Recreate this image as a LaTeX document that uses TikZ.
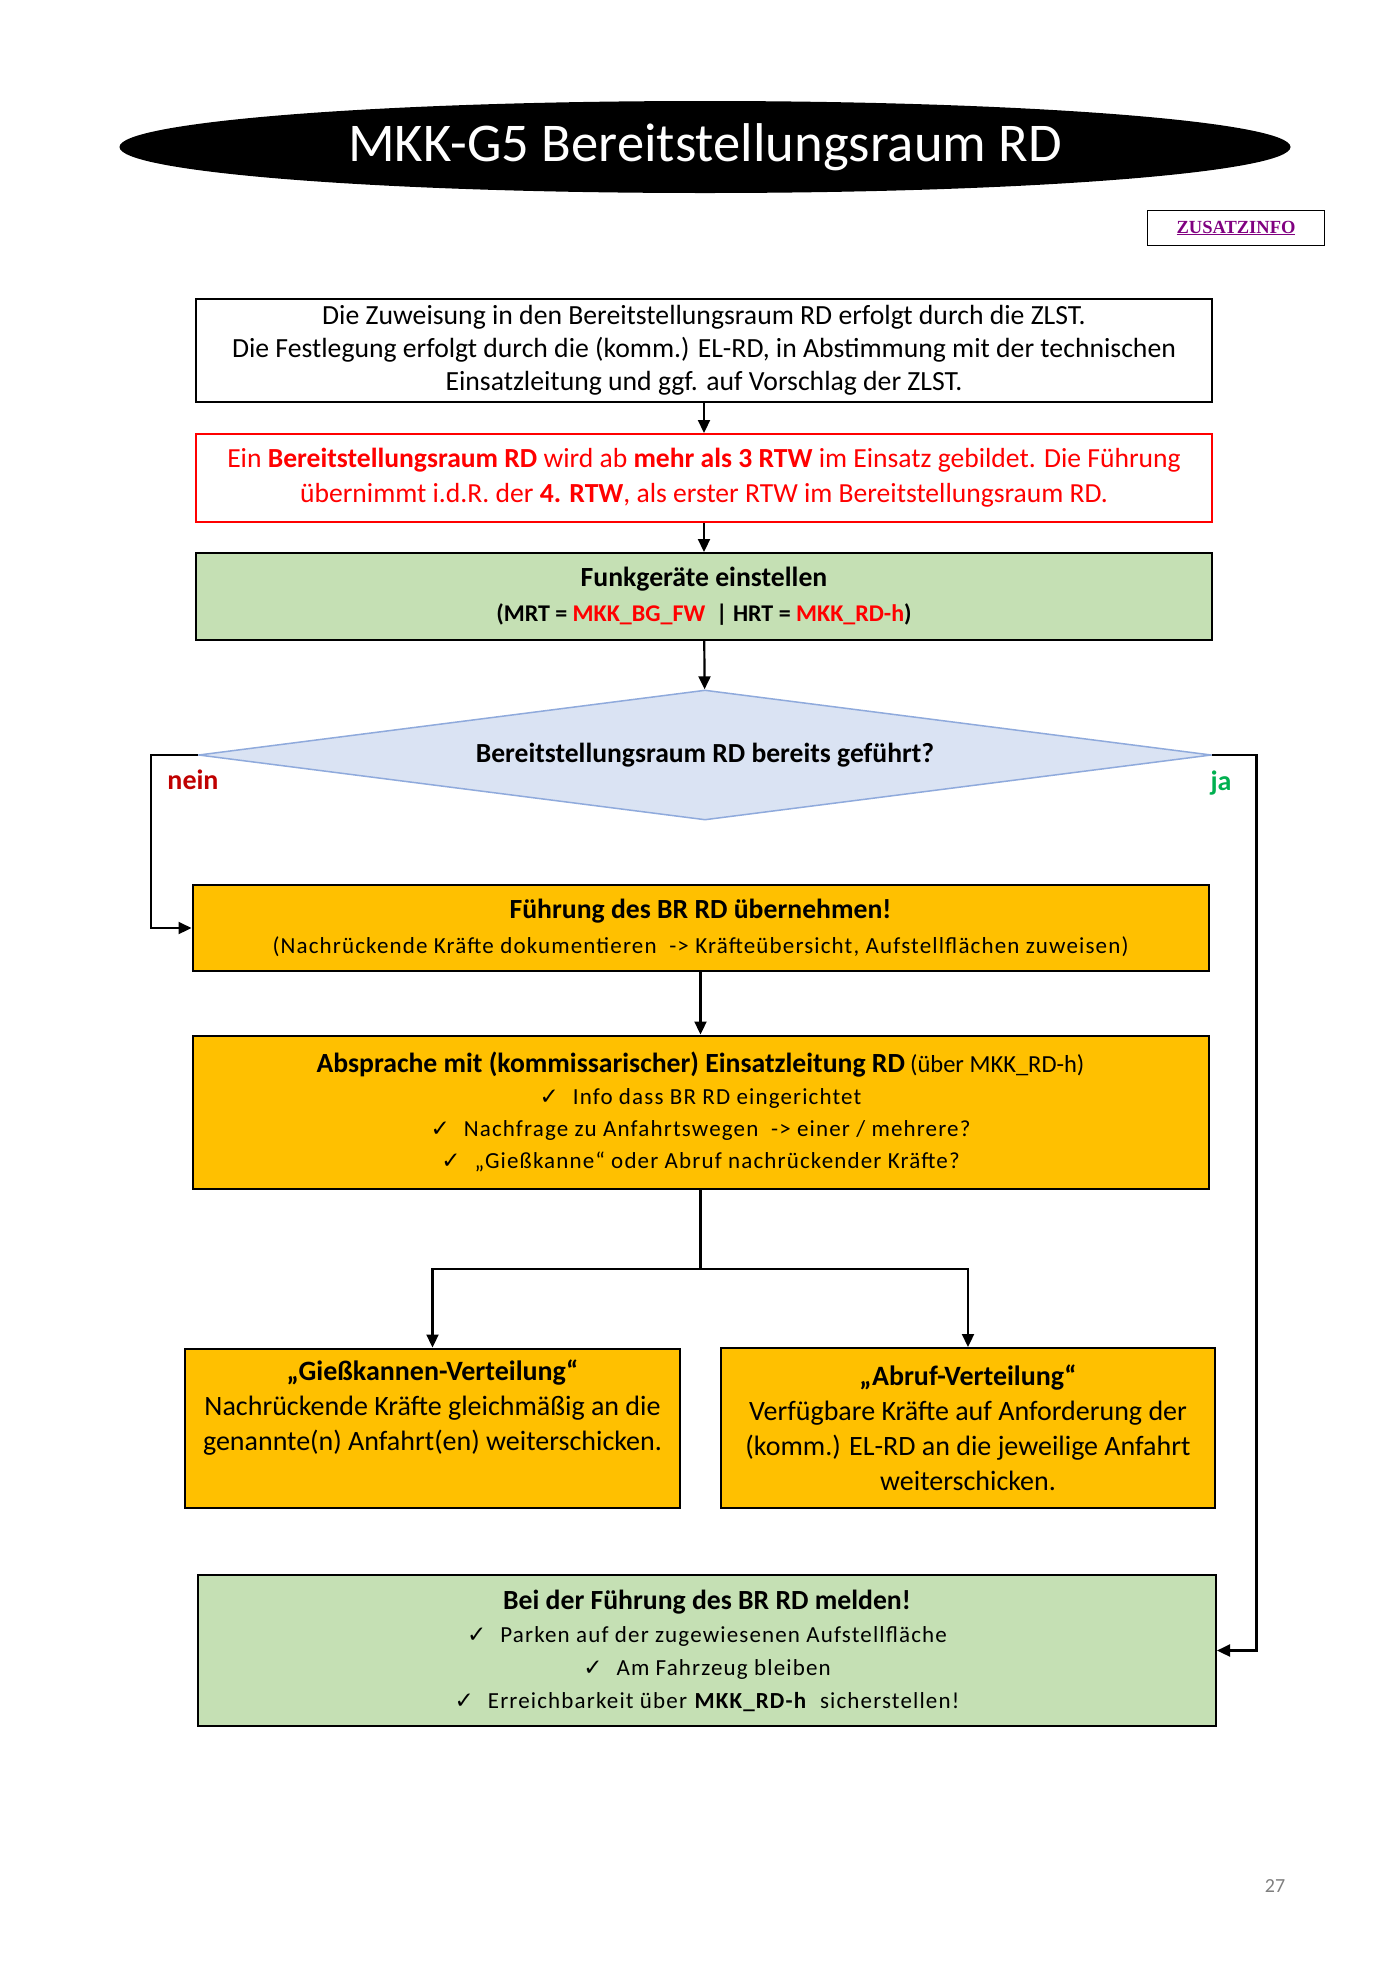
\documentclass[tikz,border=0pt]{standalone}
\usepackage{fontspec}
\setmainfont{Carlito}
\newfontfamily\weitfont[LetterSpace=5]{Carlito}
\newfontfamily\symfont{DejaVu Sans}
\newfontfamily\seriffont{Liberation Serif}
\usetikzlibrary{shapes.geometric,arrows.meta}
\definecolor{gelb}{HTML}{FFC000}
\definecolor{gruen}{HTML}{C5E0B4}
\definecolor{hellblau}{HTML}{DAE3F3}
\definecolor{blaurand}{HTML}{8FAADC}
\definecolor{rot}{HTML}{FF0000}
\definecolor{dunkelrot}{HTML}{C00000}
\definecolor{jagruen}{HTML}{00B050}
\definecolor{lila}{HTML}{800080}
\definecolor{grau}{HTML}{7F7F7F}
\newcommand{\haken}{{\symfont\fontsize{23}{20}\selectfont ✓}\hspace{14pt}}

\begin{document}
\begin{tikzpicture}
    [x=1pt,y=-1pt,
     pre/.style={<-,>={Triangle[length=13pt,width=12pt]},line width=2.2pt},
     arr/.style={->,>={Triangle[length=13pt,width=12pt]},line width=2.2pt},
     box/.style={draw=black,line width=2pt,align=center,inner sep=0pt,
       minimum width=1016pt,font=\fontsize{27.7}{33}\selectfont},
     gelbbox/.style={box,fill=gelb},
     gruenbox/.style={box,fill=gruen}]
  \useasboundingbox (0,0) rectangle (1400,1974);
  \fill[white] (0,0) rectangle (1400,1974);
  % Kopf
  \node [ellipse,fill=black,text=white,minimum width=1171pt,minimum height=92pt,
    inner sep=0pt,font=\fontsize{54.6}{60}\selectfont] (titel) at (705,147)
    {MKK-G5 Bereitstellungsraum RD};
  \node [draw=black,line width=1.8pt,minimum width=177pt,minimum height=35pt,
    inner sep=0pt,text=lila,font=\seriffont\bfseries\fontsize{18.5}{18.5}\selectfont]
    (zusatz) at (1236,228) {\underline{ZUSATZINFO}};
  % Ablauf
  \node [box,minimum height=103pt] (zuweisung) at (704,350)
    {Die Zuweisung in den Bereitstellungsraum RD erfolgt durch die ZLST.\\
     Die Festlegung erfolgt durch die (komm.) EL-RD, in Abstimmung mit der technischen\\
     Einsatzleitung und ggf. auf Vorschlag der ZLST.};
  \node [box,draw=rot,text=rot,minimum height=88pt,font=\fontsize{27.6}{35}\selectfont]
    (bildung) at (704,478)
    {Ein \textbf{Bereitstellungsraum RD} wird ab \textbf{mehr als 3 RTW} im Einsatz gebildet. Die Führung\\
     übernimmt i.d.R. der \textbf{4. RTW}, als erster RTW im Bereitstellungsraum RD.}
    edge [pre] (zuweisung);
  \node [gruenbox,minimum height=87pt,font=\bfseries\fontsize{27.7}{35}\selectfont]
    (funk) at (704,596.5)
    {Funkgeräte einstellen\\
     {\fontsize{24}{24}\selectfont (MRT = \textcolor{rot}{MKK\_BG\_FW}\ \ | HRT = \textcolor{rot}{MKK\_RD-h})}}
    edge [pre] (bildung);
  \node [diamond,aspect=7.8,draw=blaurand,fill=hellblau,line width=1.5pt,
    minimum width=1013pt,minimum height=130pt,inner sep=0pt,
    font=\bfseries\fontsize{27.6}{30}\selectfont] (frage) at (705,755)
    {Bereitstellungsraum RD bereits geführt?}
    edge [pre] (funk);
  \node [gelbbox,minimum height=86pt,font=\fontsize{27.7}{35}\selectfont]
    (uebernahme) at (700.5,928)
    {\textbf{Führung des BR RD übernehmen!}\\
     {\weitfont\fontsize{23}{23}\selectfont (Nachrückende Kräfte dokumentieren \ -> Kräfteübersicht, Aufstellflächen zuweisen)}};
  \node [gelbbox,minimum height=153pt,font=\fontsize{23}{32}\selectfont]
    (absprache) at (700.5,1112)
    {{\bfseries\fontsize{27.7}{27.7}\selectfont Absprache mit (kommissarischer) Einsatzleitung RD}
     {\fontsize{24.5}{24.5}\selectfont (über MKK\_RD-h)}\\
     \haken{\weitfont Info dass BR RD eingerichtet}\\
     \haken{\weitfont Nachfrage zu Anfahrtswegen \ -> einer / mehrere?}\\
     \haken{\weitfont „Gießkanne“ oder Abruf nachrückender Kräfte?}}
    edge [pre] (uebernahme);
  \node [gelbbox,minimum width=495pt,minimum height=159pt,font=\fontsize{28}{35}\selectfont]
    (giesskanne) at (432.5,1428)
    {\textbf{„Gießkannen-Verteilung“}\\
     Nachrückende Kräfte gleichmäßig an die\\
     genannte(n) Anfahrt(en) weiterschicken.\\
     \strut};
  \node [gelbbox,minimum width=494pt,minimum height=160pt,font=\fontsize{28}{35}\selectfont]
    (abruf) at (968,1428)
    {\textbf{„Abruf-Verteilung“}\\
     Verfügbare Kräfte auf Anforderung der\\
     (komm.) EL-RD an die jeweilige Anfahrt\\
     weiterschicken.};
  \node [gruenbox,minimum width=1018pt,minimum height=151pt,font=\fontsize{23}{33}\selectfont]
    (melden) at (707,1650.5)
    {{\bfseries\fontsize{27.7}{27.7}\selectfont Bei der Führung des BR RD melden!}\\
     \haken{\weitfont Parken auf der zugewiesenen Aufstellfläche}\\
     \haken{\weitfont Am Fahrzeug bleiben}\\
     \haken{\weitfont Erreichbarkeit über \textbf{MKK\_RD-h}\ \ sicherstellen!}};
  % Verzweigungen
  \coordinate (split) at (700.5,1269);
  \draw [line width=2.2pt] (absprache) -- (split);
  \draw [arr] (split) -| (giesskanne);
  \draw [arr] (split) -| (abruf);
  \coordinate (neinknick) at (151,840);
  \coordinate (jaknick) at (1256.5,1200);
  \draw [arr] (frage.west) -| (neinknick) |- (uebernahme.west);
  \draw [arr] (frage.east) -| (jaknick) |- (melden.east);
  \node [text=dunkelrot,font=\bfseries\fontsize{28}{28}\selectfont] (nein) at (193,780) {nein};
  \node [text=jagruen,font=\bfseries\fontsize{28}{28}\selectfont] (ja) at (1221,783) {ja};
  \node [text=grau,font=\fontsize{20}{20}\selectfont] (seite) at (1275,1886) {27};
\end{tikzpicture}
\end{document}
